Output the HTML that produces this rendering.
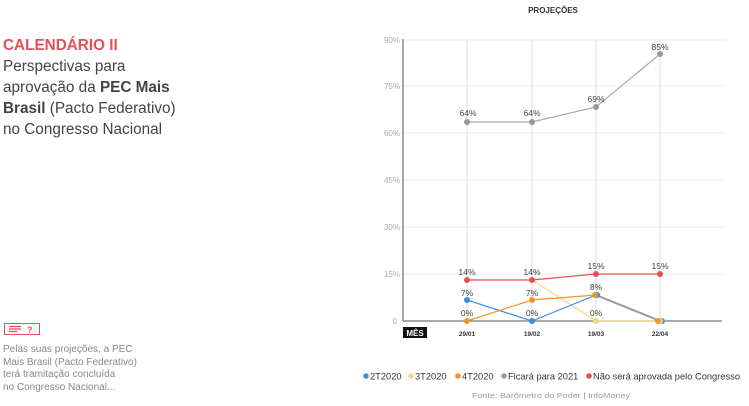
<!DOCTYPE html>
<html><head><meta charset="utf-8"><style>
body{margin:0;width:749px;height:406px;background:#fff;font-family:"Liberation Sans",sans-serif;overflow:hidden;position:relative}
.l{position:absolute;left:3px;top:35px;font-size:15.3px;line-height:21px;color:#444}
.l b.r{color:#e4505a}
.n{position:absolute;left:3px;top:344px;font-size:10px;line-height:12.5px;color:#888}
.ic{position:absolute;left:4px;top:323px;width:36px;height:12px;border:1.5px solid #e4505a;box-sizing:border-box}
</style></head><body>
<div class="l"><b class="r">CALENDÁRIO II</b><br>Perspectivas para<br>aprovação da <b>PEC Mais</b><br><b>Brasil</b> (Pacto Federativo)<br>no Congresso Nacional</div>
<div class="ic"><svg width="34" height="10" style="position:absolute;left:0;top:0"><g stroke="#e4505a" stroke-width="1.3"><line x1="4" y1="2.5" x2="16" y2="2.5"/><line x1="4" y1="5" x2="16" y2="5"/><line x1="4" y1="7.5" x2="12" y2="7.5"/></g><text x="22" y="9" font-size="9" font-weight="bold" fill="#e4505a" font-family="Liberation Sans">?</text></svg></div>
<div class="n">Pelas suas projeções, a PEC<br>Mais Brasil (Pacto Federativo)<br>terá tramitação concluída<br>no Congresso Nacional...</div>
<svg width="749" height="406" style="position:absolute;left:0;top:0" font-family="Liberation Sans">
<text x="553" y="13" font-size="8" font-weight="bold" fill="#333" text-anchor="middle">PROJEÇÕES</text>
<g stroke="#eee" stroke-width="1">
<line x1="403" y1="40" x2="725" y2="40"/><line x1="403" y1="86" x2="725" y2="86"/><line x1="403" y1="133" x2="725" y2="133"/><line x1="403" y1="180" x2="725" y2="180"/><line x1="403" y1="227" x2="725" y2="227"/><line x1="403" y1="274" x2="725" y2="274"/>
</g>
<g stroke="#ddd" stroke-width="1">
<line x1="467" y1="40" x2="467" y2="321"/><line x1="532" y1="40" x2="532" y2="321"/><line x1="596" y1="40" x2="596" y2="321"/><line x1="660" y1="40" x2="660" y2="321"/>
</g>
<line x1="403" y1="39" x2="403" y2="321" stroke="#777" stroke-width="1.3"/>
<line x1="403" y1="321" x2="722" y2="321" stroke="#777" stroke-width="1.3"/>
<g font-size="8" fill="#aaa" text-anchor="end">
<text x="400" y="43">90%</text><text x="400" y="89">75%</text><text x="400" y="136">60%</text><text x="400" y="183">45%</text><text x="400" y="230">30%</text><text x="400" y="277">15%</text><text x="397" y="324">0</text>
</g>
<rect x="403" y="327" width="24" height="11" fill="#111"/>
<text x="415" y="336" font-size="8" font-weight="bold" fill="#fff" text-anchor="middle">MÊS</text>
<g font-size="6.5" font-weight="bold" fill="#333" text-anchor="middle">
<text x="467" y="336">29/01</text><text x="532" y="336">19/02</text><text x="596" y="336">19/03</text><text x="660" y="336">22/04</text>
</g>
<g fill="none" stroke-width="1.2">
<polyline points="467,122 532,122 596,107 660,54" stroke="#aaa"/>
<polyline points="467,280 532,280 596,321 660,321" stroke="#f0d78c"/>
<polyline points="467,300 532,321 596,295 660,321" stroke="#3d8fe0"/>
<polyline points="467,321 532,300 596,295 660,321" stroke="#f0962a"/>
<line x1="596" y1="295" x2="660" y2="321" stroke="#999" stroke-width="2"/>
<polyline points="467,280 532,280 596,274 660,274" stroke="#e4505a"/>
</g>
<g>
<circle cx="467" cy="122" r="3" fill="#999"/><circle cx="532" cy="122" r="3" fill="#999"/><circle cx="596" cy="107" r="3" fill="#999"/><circle cx="660" cy="54" r="3" fill="#999"/>
<circle cx="596" cy="321" r="3" fill="#f0d78c"/><circle cx="662" cy="321" r="3" fill="#3d8fe0"/><circle cx="660" cy="321" r="3" fill="#f0d78c"/>
<circle cx="467" cy="300" r="3" fill="#3d8fe0"/><circle cx="532" cy="321" r="3" fill="#3d8fe0"/><circle cx="597" cy="295" r="3" fill="#3d8fe0"/>
<circle cx="467" cy="321" r="3" fill="#f0962a"/><circle cx="532" cy="300" r="3" fill="#f0962a"/><circle cx="595" cy="295" r="3" fill="#f0962a"/><circle cx="658" cy="321" r="3" fill="#f0962a"/>
<circle cx="467" cy="280" r="3" fill="#e4505a"/><circle cx="532" cy="280" r="3" fill="#e4505a"/><circle cx="596" cy="274" r="3" fill="#e4505a"/><circle cx="660" cy="274" r="3" fill="#e4505a"/>
</g>
<g font-size="8.5" fill="#444" text-anchor="middle">
<text x="468" y="116">64%</text><text x="532" y="116">64%</text><text x="596" y="102">69%</text><text x="660" y="50">85%</text>
<text x="467" y="275">14%</text><text x="532" y="275">14%</text><text x="596" y="269">15%</text><text x="660" y="269">15%</text>
<text x="467" y="296">7%</text><text x="532" y="296">7%</text><text x="596" y="290">8%</text>
<text x="467" y="316">0%</text><text x="532" y="316">0%</text><text x="596" y="316">0%</text>
</g>
<g font-size="9.3" fill="#333">
<circle cx="366" cy="376" r="2.8" fill="#3d8fe0"/><text x="370" y="379.5">2T2020</text>
<circle cx="411" cy="376" r="2.8" fill="#f0d78c"/><text x="415" y="379.5">3T2020</text>
<circle cx="458" cy="376" r="2.8" fill="#f0962a"/><text x="462" y="379.5">4T2020</text>
<circle cx="504" cy="376" r="2.8" fill="#999"/><text x="508" y="379.5">Ficará para 2021</text>
<circle cx="589" cy="376" r="2.8" fill="#e4505a"/><text x="593" y="379.5" textLength="147" lengthAdjust="spacingAndGlyphs">Não será aprovada pelo Congresso</text>
</g>
<text x="551" y="398" font-size="7.5" fill="#999" text-anchor="middle" textLength="158" lengthAdjust="spacingAndGlyphs">Fonte: Barômetro do Poder | InfoMoney</text>
</svg>
</body></html>
